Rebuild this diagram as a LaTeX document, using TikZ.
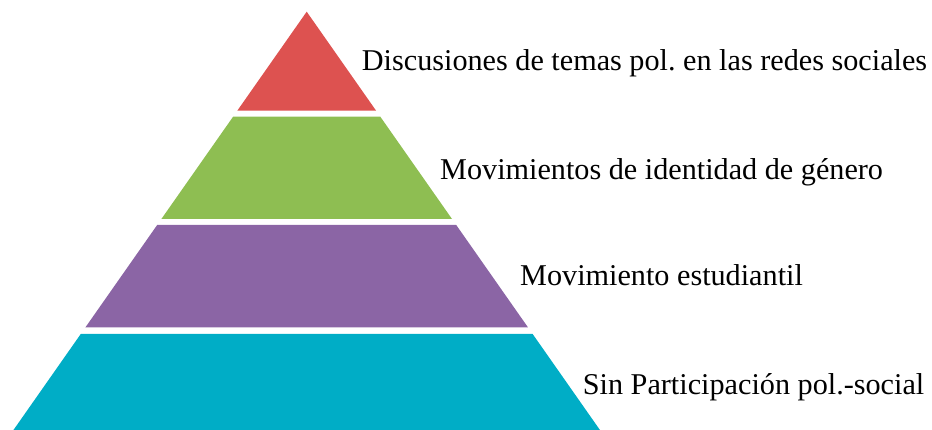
\documentclass[tikz,border=0pt]{standalone}
\usepackage{fontspec}
\setmainfont{Liberation Serif}
\definecolor{layerRed}{HTML}{DD5250}
\definecolor{layerGreen}{HTML}{8EBE52}
\definecolor{layerPurple}{HTML}{8B65A5}
\definecolor{layerCyan}{HTML}{00ADC6}
\usetikzlibrary{calc}
\frenchspacing

\begin{document}
\begin{tikzpicture}[
    x=1pt, y=-1pt,
    every node/.style={font=\fontsize{30.2}{34}\selectfont, inner sep=0pt, anchor=base west}
  ]
  \useasboundingbox (0,0) rectangle (932,430);
  % pyramid layers: colour / top / bottom
  \foreach \col/\top/\bot in {layerRed/11.7/110.7, layerGreen/116.7/219, layerPurple/225/327.3, layerCyan/334/430}{
    \fill[\col] ({306.7-0.701*(\top-11.7)},\top) -- ({306.7+0.701*(\top-11.7)},\top)
      -- ({306.7+0.701*(\bot-11.7)},\bot) -- ({306.7-0.701*(\bot-11.7)},\bot) -- cycle;
  }

  \node (disc) at (361.7,70.7) {Discusiones de temas pol. en las redes sociales};
  \node (genero) at (440,180) {Movimientos de identidad de género};
  \node (estud) at (520,285.7) {Movimiento estudiantil};
  \node (sinpart) at (582.7,395) {Sin Participación pol.-social};
\end{tikzpicture}
\end{document}
